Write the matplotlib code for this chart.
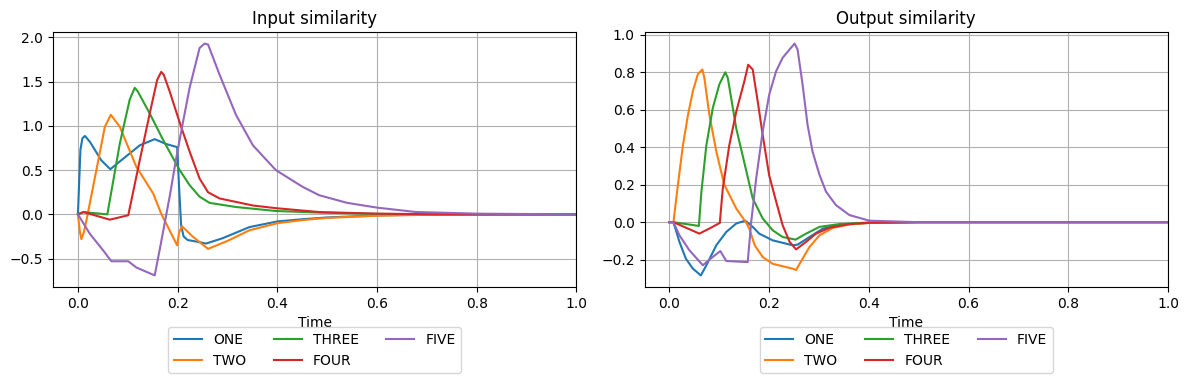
import matplotlib
matplotlib.use("Agg")
import matplotlib.pyplot as plt

labels = ["ONE", "TWO", "THREE", "FOUR", "FIVE"]

# ---- Input similarity ----
in_one_t = [0, 0.005, 0.009, 0.014, 0.024, 0.047, 0.065, 0.091, 0.124, 0.154, 0.177, 0.199, 0.203, 0.207, 0.212, 0.22, 0.24, 0.257, 0.29, 0.344, 0.4, 0.45, 0.5, 0.6, 0.7, 0.8, 1.0]
in_one_y = [0, 0.73, 0.86, 0.886, 0.82, 0.61, 0.51, 0.63, 0.78, 0.85, 0.795, 0.76, 0.3, -0.125, -0.25, -0.29, -0.31, -0.33, -0.27, -0.144, -0.08, -0.055, -0.035, -0.012, -0.004, -0.001, 0]

in_two_t = [0, 0.004, 0.007, 0.012, 0.017, 0.037, 0.054, 0.066, 0.084, 0.117, 0.151, 0.167, 0.199, 0.203, 0.209, 0.23, 0.261, 0.3, 0.344, 0.4, 0.45, 0.5, 0.6, 0.7, 0.8, 1.0]
in_two_y = [0, -0.2, -0.28, -0.2, -0.07, 0.5, 0.99, 1.125, 0.99, 0.54, 0.235, 0.008, -0.35, -0.2, -0.136, -0.25, -0.39, -0.3, -0.18, -0.1, -0.065, -0.04, -0.015, -0.005, -0.001, 0]

in_three_t = [0, 0.011, 0.059, 0.084, 0.104, 0.114, 0.12, 0.144, 0.171, 0.203, 0.224, 0.244, 0.264, 0.317, 0.397, 0.484, 0.6, 0.7, 0.8, 1.0]
in_three_y = [0, 0.026, 0.0, 0.8, 1.3, 1.43, 1.39, 1.14, 0.84, 0.51, 0.33, 0.2, 0.13, 0.083, 0.038, 0.02, 0.005, 0.001, 0.0, 0]

in_four_t = [0, 0.011, 0.064, 0.101, 0.124, 0.144, 0.159, 0.167, 0.172, 0.184, 0.204, 0.224, 0.244, 0.261, 0.284, 0.351, 0.397, 0.484, 0.6, 0.7, 0.8, 1.0]
in_four_y = [0, 0.026, -0.06, -0.01, 0.61, 1.14, 1.52, 1.61, 1.58, 1.39, 1.04, 0.71, 0.405, 0.25, 0.18, 0.10, 0.07, 0.026, 0.008, 0.002, 0.0, 0]

in_five_t = [0, 0.024, 0.051, 0.067, 0.101, 0.117, 0.154, 0.164, 0.184, 0.197, 0.211, 0.224, 0.244, 0.254, 0.261, 0.284, 0.317, 0.351, 0.397, 0.451, 0.484, 0.54, 0.6, 0.677, 0.8, 1.0]
in_five_y = [0, -0.22, -0.41, -0.53, -0.53, -0.6, -0.69, -0.4, 0.2, 0.63, 1.05, 1.43, 1.88, 1.93, 1.92, 1.58, 1.125, 0.78, 0.5, 0.31, 0.216, 0.13, 0.076, 0.027, 0.008, 0]

# ---- Output similarity ----
out_one_t = [0, 0.008, 0.02, 0.033, 0.047, 0.063, 0.074, 0.094, 0.114, 0.134, 0.152, 0.167, 0.18, 0.207, 0.247, 0.257, 0.281, 0.308, 0.341, 0.4, 0.5, 1.0]
out_one_y = [0, 0, -0.105, -0.195, -0.248, -0.284, -0.23, -0.123, -0.052, -0.007, 0.008, -0.025, -0.061, -0.097, -0.123, -0.12, -0.079, -0.034, -0.014, -0.004, 0, 0]

out_two_t = [0, 0.008, 0.017, 0.027, 0.037, 0.047, 0.057, 0.066, 0.07, 0.08, 0.094, 0.11, 0.134, 0.155, 0.16, 0.171, 0.187, 0.207, 0.247, 0.254, 0.267, 0.281, 0.301, 0.328, 0.361, 0.4, 0.5, 1.0]
out_two_y = [0, 0, 0.2, 0.41, 0.57, 0.70, 0.79, 0.815, 0.77, 0.574, 0.377, 0.2, 0.073, -0.007, -0.034, -0.123, -0.186, -0.222, -0.248, -0.255, -0.195, -0.132, -0.07, -0.03, -0.012, -0.004, 0, 0]

out_three_t = [0, 0.008, 0.059, 0.064, 0.074, 0.087, 0.1, 0.112, 0.117, 0.134, 0.15, 0.167, 0.187, 0.207, 0.227, 0.253, 0.274, 0.301, 0.341, 0.4, 0.5, 1.0]
out_three_y = [0, 0, -0.02, 0.16, 0.41, 0.61, 0.735, 0.80, 0.77, 0.50, 0.32, 0.127, 0.02, -0.043, -0.079, -0.093, -0.061, -0.025, -0.01, -0.002, 0, 0]

out_four_t = [0, 0.008, 0.06, 0.08, 0.101, 0.107, 0.12, 0.134, 0.15, 0.158, 0.167, 0.177, 0.187, 0.2, 0.214, 0.227, 0.241, 0.254, 0.274, 0.294, 0.321, 0.361, 0.4, 0.5, 1.0]
out_four_y = [0, 0, -0.061, -0.034, -0.004, 0.18, 0.41, 0.59, 0.75, 0.84, 0.815, 0.645, 0.466, 0.25, 0.11, -0.016, -0.105, -0.145, -0.105, -0.061, -0.03, -0.01, -0.003, 0, 0]

out_five_t = [0, 0.008, 0.02, 0.04, 0.067, 0.08, 0.102, 0.114, 0.134, 0.157, 0.164, 0.174, 0.187, 0.2, 0.214, 0.227, 0.241, 0.251, 0.257, 0.267, 0.277, 0.287, 0.301, 0.314, 0.334, 0.361, 0.401, 0.5, 1.0]
out_five_y = [0, 0, -0.07, -0.15, -0.23, -0.2, -0.154, -0.207, -0.21, -0.213, 0.002, 0.234, 0.484, 0.68, 0.806, 0.877, 0.922, 0.953, 0.922, 0.735, 0.52, 0.377, 0.252, 0.163, 0.091, 0.038, 0.008, 0, 0]

input_series = [(in_one_t, in_one_y), (in_two_t, in_two_y), (in_three_t, in_three_y),
                (in_four_t, in_four_y), (in_five_t, in_five_y)]
output_series = [(out_one_t, out_one_y), (out_two_t, out_two_y), (out_three_t, out_three_y),
                 (out_four_t, out_four_y), (out_five_t, out_five_y)]

fig, axes = plt.subplots(1, 2, figsize=(11.89, 3.83), dpi=100)
fig.subplots_adjust(left=53/1189, right=1168/1189, top=1-32/383, bottom=1-287/383, wspace=0.13)

for ax, series, title in zip(axes, [input_series, output_series],
                             ["Input similarity", "Output similarity"]):
    for (t, y), lab in zip(series, labels):
        ax.plot(t, y, label=lab, linewidth=1.5)
    ax.set_title(title)
    ax.set_xlabel("Time")
    ax.grid(True)
    ax.set_xlim(-0.05, 1.0)
    ax.legend(loc="upper center", bbox_to_anchor=(0.5, -0.13), ncol=3)

fig.savefig("out.png", dpi=100)
